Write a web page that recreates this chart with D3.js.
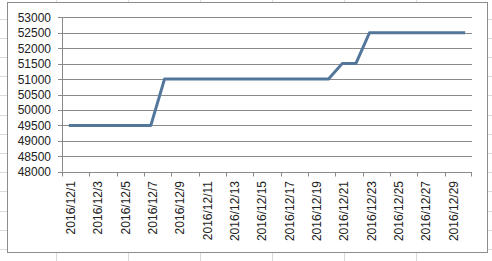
<!DOCTYPE html>
<html>
<head>
<meta charset="utf-8">
<script src="https://cdn.jsdelivr.net/npm/d3@7"></script>
<style>
  body { margin: 0; background: #fff; }
  svg { display: block; font-family: Arial, "Liberation Sans", sans-serif; }
</style>
</head>
<body>
<script>
// datos
const fechas = d3.range(1, 31).map(d => '2016/12/' + d);
const precios = [
  49500, 49500, 49500, 49500, 49500, 49500, 49500,
  51000, 51000, 51000, 51000, 51000, 51000, 51000, 51000, 51000, 51000, 51000, 51000,
  51000, 51500, 51500,
  52500, 52500, 52500, 52500, 52500, 52500, 52500, 52500
];
const ticksY = d3.range(48000, 53001, 500);

const w = 492, h = 261;

const svg = d3.select('body').append('svg')
  .attr('width', w)
  .attr('height', h);

// fondo de hoja de calculo
const filas = d3.range(0, 14).map(i => 18.5 + i * 19.2);
const columnas = [56.5, 128.5, 200.5, 272.5, 344.5, 416.5];
svg.append('g').selectAll('line.fila')
  .data(filas).enter().append('line')
  .attr('x1', 0).attr('x2', w)
  .attr('y1', d => Math.round(d) + 0.5).attr('y2', d => Math.round(d) + 0.5)
  .attr('stroke', '#dadada');
svg.append('g').selectAll('line.col')
  .data(columnas).enter().append('line')
  .attr('x1', d => d).attr('x2', d => d)
  .attr('y1', 0).attr('y2', h)
  .attr('stroke', '#dadada');

// area del grafico
svg.append('rect')
  .attr('x', 7.5).attr('y', 2.5)
  .attr('width', 480).attr('height', 250)
  .attr('fill', '#fff')
  .attr('stroke', '#8c8c8c');

// escalas
const xScale = d3.scaleBand()
  .domain(fechas)
  .range([62, 472])
  .padding(0);

const yScale = d3.scaleLinear()
  .domain([48000, 53000])
  .range([171.7, 17.3]);

// lineas de cuadricula y eje Y
const gy = svg.append('g');
gy.selectAll('line')
  .data(ticksY).enter().append('line')
  .attr('x1', 58).attr('x2', 472)
  .attr('y1', d => Math.round(yScale(d)) + 0.5)
  .attr('y2', d => Math.round(yScale(d)) + 0.5)
  .attr('stroke', '#8a8a8a');
gy.selectAll('text')
  .data(ticksY).enter().append('text')
  .attr('x', 51)
  .attr('y', d => yScale(d) + 4.5)
  .attr('text-anchor', 'end')
  .attr('font-size', 12)
  .attr('fill', '#222')
  .text(d => d);
gy.append('line')
  .attr('x1', 62.5).attr('x2', 62.5)
  .attr('y1', yScale(53000)).attr('y2', yScale(48000))
  .attr('stroke', '#8a8a8a');

// eje X
const gx = svg.append('g');
const y0 = Math.round(yScale(48000)) + 0.5;
const marcas = fechas.filter((d, i) => i % 2 === 0);
gx.selectAll('line')
  .data(marcas).enter().append('line')
  .attr('x1', d => Math.round(xScale(d)) + 0.5)
  .attr('x2', d => Math.round(xScale(d)) + 0.5)
  .attr('y1', y0).attr('y2', y0 + 4)
  .attr('stroke', '#8a8a8a');
gx.append('line')
  .attr('x1', 471.5).attr('x2', 471.5)
  .attr('y1', y0).attr('y2', y0 + 4)
  .attr('stroke', '#8a8a8a');
gx.selectAll('text')
  .data(marcas).enter().append('text')
  .attr('transform', d => 'translate(' + (xScale(d) + xScale.bandwidth() / 2 + 6) + ',' + 181 + ') rotate(-90)')
  .attr('text-anchor', 'end')
  .attr('font-size', 12)
  .attr('fill', '#222')
  .text(d => d);

// linea de datos
const linea = d3.line()
  .x((d, i) => xScale(fechas[i]) + xScale.bandwidth() / 2)
  .y(d => yScale(d));

svg.append('path')
  .datum(precios)
  .attr('d', linea)
  .attr('fill', 'none')
  .attr('stroke', '#53769b')
  .attr('stroke-width', 3)
  .attr('stroke-linejoin', 'round');
</script>
</body>
</html>
